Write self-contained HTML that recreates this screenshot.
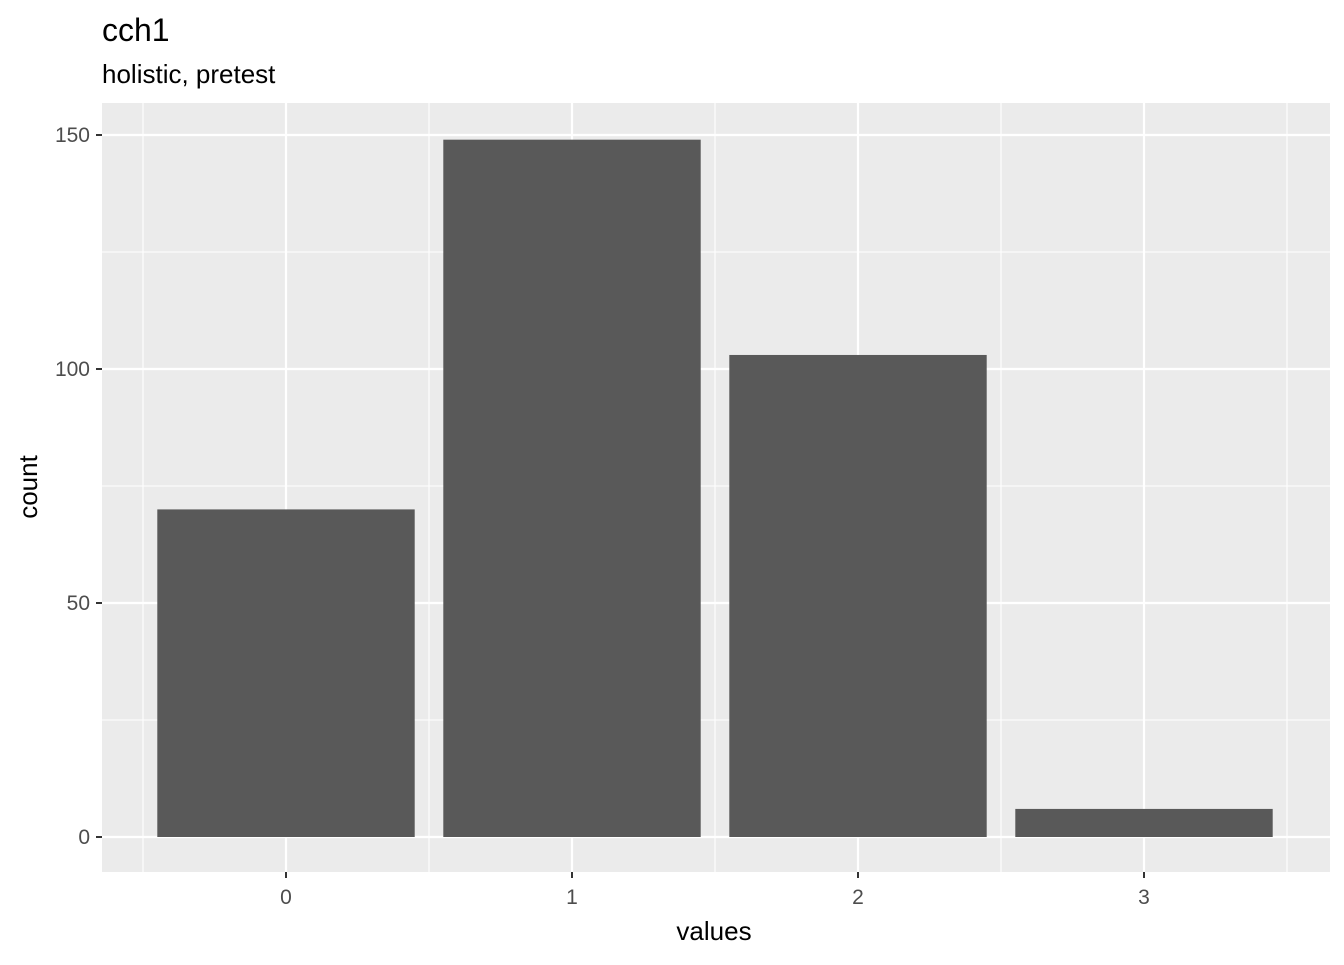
<!DOCTYPE html>
<html><head><meta charset="utf-8"><style>
body{margin:0;background:#fff;font-family:"Liberation Sans",Arial,sans-serif;}
</style></head><body>
<svg width="1344" height="960" xmlns="http://www.w3.org/2000/svg">
<text x="102" y="41" font-size="32" fill="#000">cch1</text>
<text x="102" y="83" font-size="26" fill="#000">holistic, pretest</text>
<rect x="102" y="103" width="1228" height="769" fill="#ebebeb"/>
<g id="grid"></g>
<g id="bars"></g>
<g id="axes"></g>
<text x="714" y="940" font-size="26" text-anchor="middle" fill="#000">values</text>
<text transform="translate(37,487) rotate(-90)" font-size="26" text-anchor="middle" fill="#000">count</text>
</svg>
<script>
const categories = ["0","1","2","3"];
const counts = [70, 149, 103, 6];
const yTicks = [0, 50, 100, 150];
const yMinor = [25, 75, 125];
const NS = "http://www.w3.org/2000/svg";
const y = v => 837 - v * 4.68;
const x = i => 286 + i * 286;
const step = 286;
function mk(tag, attrs, parent){const e=document.createElementNS(NS,tag);for(const k in attrs)e.setAttribute(k,attrs[k]);document.getElementById(parent).appendChild(e);return e;}
yMinor.forEach(v=>{const l=mk('line',{x1:102,x2:1330,y1:y(v),y2:y(v),stroke:'#fff','stroke-width':1.1},'grid');

});
for(let i=-0.5;i<=categories.length-0.5;i+=1){const l=mk('line',{x1:x(i),x2:x(i),y1:103,y2:872,stroke:'#fff','stroke-width':1.1},'grid');

}
yTicks.forEach(v=>{const l=mk('line',{x1:102,x2:1330,y1:y(v),y2:y(v),stroke:'#fff','stroke-width':2.2},'grid');


const t=mk('line',{x1:96,x2:102,y1:y(v),y2:y(v),stroke:'#333','stroke-width':2},'axes');


const tx=mk('text',{x:90,y:y(v)+7,'font-size':21,'text-anchor':'end',fill:'#4d4d4d'},'axes');tx.textContent=v;

});
categories.forEach((c,i)=>{const l=mk('line',{x1:x(i),x2:x(i),y1:103,y2:872,stroke:'#fff','stroke-width':2.2},'grid');


const b=mk('rect',{x:x(i)-step*0.45,y:y(counts[i]),width:step*0.9,height:y(0)-y(counts[i]),fill:'#595959'},'bars');


const t=mk('line',{x1:x(i),x2:x(i),y1:872,y2:878,stroke:'#333','stroke-width':2},'axes');


const tx=mk('text',{x:x(i),y:904,'font-size':21,'text-anchor':'middle',fill:'#4d4d4d'},'axes');tx.textContent=c;

});
</script>
</body></html>
